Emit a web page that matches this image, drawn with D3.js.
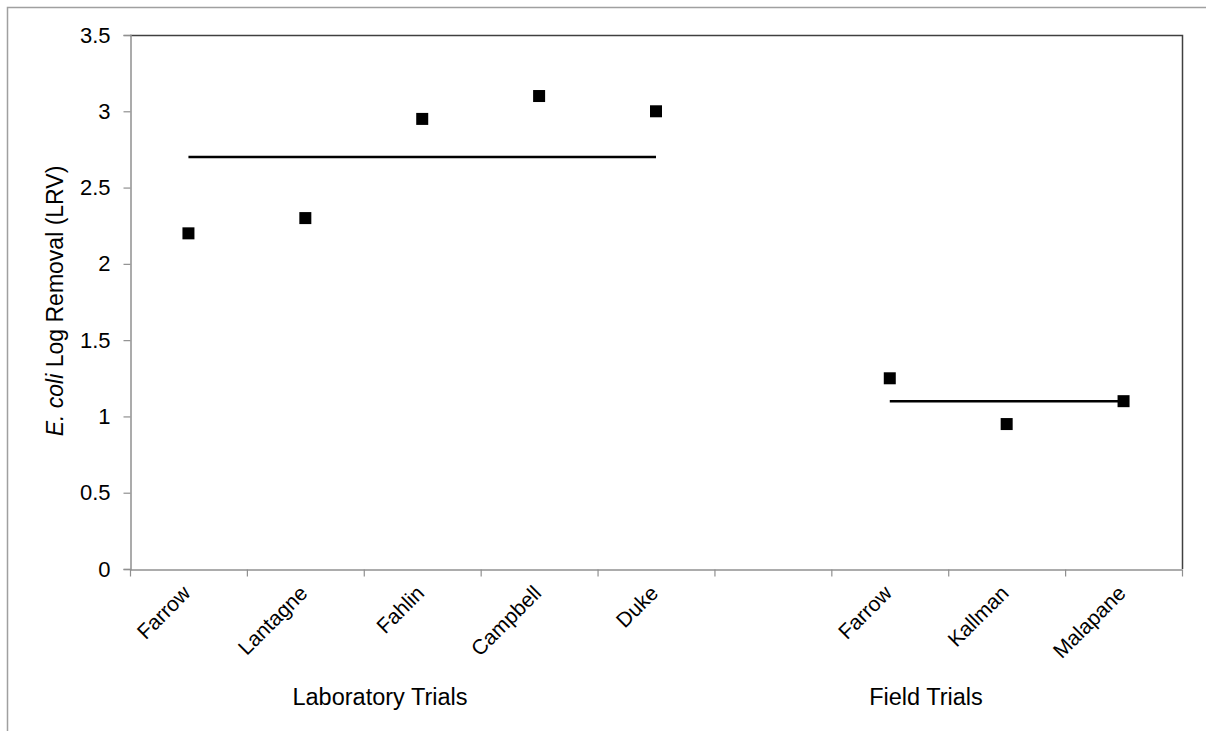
<!doctype html>
<html>
<head>
<meta charset="utf-8">
<style>
  body { margin: 0; background: #fff; }
  text { font-family: "Liberation Sans", Arial, sans-serif; fill: #000; }
</style>
</head>
<body>
<script src="https://d3js.org/d3.v7.min.js"></script>
<script>

  // data
  var labels = ["Farrow","Lantagne","Fahlin","Campbell","Duke","","Farrow","Kallman","Malapane"];
  var values = [2.2, 2.3, 2.95, 3.1, 3.0, null, 1.25, 0.95, 1.1];
  var yTicks = [0, 0.5, 1, 1.5, 2, 2.5, 3, 3.5];
  // mean lines: [first index, last index, value]
  var meanLab = [0, 4, 2.7];
  var meanField = [6, 8, 1.1];
  var groups = ["Laboratory Trials", "Field Trials"];

  var width = 1206, height = 731;
  var pad = { left: 130, right: 1182, top: 35, bottom: 569 };

  var svg = d3.select("body").append("svg").attr("width", width).attr("height", height);

  // outer chart border
  svg.append("rect")
      .attr("x", 7.5).attr("y", 7.5)
      .attr("width", width + 20).attr("height", height + 20)
      .attr("fill", "none").attr("stroke", "#a0a0a0").attr("stroke-width", 1.5);

  var idx = d3.range(labels.length);
  var xBand = d3.scaleBand().domain(idx).range([pad.left, pad.right]);
  var xEdge = d3.scaleLinear().domain([0, labels.length]).range([pad.left, pad.right]);
  var yScale = d3.scaleLinear().domain([0, 3.5]).range([pad.bottom, pad.top]);

  // plot frame (top and right)
  svg.append("path")
      .attr("d", "M" + pad.left + "," + (pad.top + 0.5) + "H" + (pad.right + 0.5) + "V" + pad.bottom)
      .attr("fill", "none").attr("stroke", "#404040").attr("stroke-width", 1.5);

  // y axis
  var yAxis = svg.append("g")
      .attr("transform", "translate(" + (pad.left + 0.5) + ",0)")
      .call(d3.axisLeft(yScale).tickValues(yTicks).tickSize(7).tickPadding(13)
            .tickFormat(function(d){ return String(d); }));
  yAxis.select(".domain").attr("stroke", "#909090").attr("stroke-width", 1.5);
  yAxis.selectAll(".tick line").attr("stroke", "#909090").attr("stroke-width", 1.2);
  yAxis.selectAll(".tick text").style("font-size", "22px").attr("font-family", null);

  // x axis (ticks at category edges)
  var xAxis = svg.append("g")
      .attr("transform", "translate(0," + (pad.bottom + 0.5) + ")")
      .call(d3.axisBottom(xEdge).tickValues(d3.range(labels.length + 1)).tickSize(7).tickSizeOuter(0)
            .tickFormat(""));
  xAxis.select(".domain").attr("stroke", "#909090").attr("stroke-width", 1.5);
  xAxis.selectAll(".tick line").attr("stroke", "#909090").attr("stroke-width", 1.2);

  // category labels
  svg.append("g").selectAll("text")
      .data(idx.filter(function(i){ return labels[i] !== ""; }))
      .enter().append("text")
      .attr("transform", function(i){
        return "translate(" + (xBand(i) + xBand.bandwidth() / 2 - 7) + "," + (pad.bottom + 15) + ") rotate(-45)";
      })
      .attr("text-anchor", "end")
      .attr("dy", "0.7em")
      .style("font-size", "21px")
      .text(function(i){ return labels[i]; });

  // group labels
  svg.append("text").attr("x", 380).attr("y", 705).attr("text-anchor", "middle")
      .style("font-size", "23.5px").text(groups[0]);
  svg.append("text").attr("x", 926).attr("y", 705).attr("text-anchor", "middle")
      .style("font-size", "23.5px").text(groups[1]);

  // y axis title
  var yt = svg.append("text")
      .attr("transform", "translate(63,301) rotate(-90)")
      .attr("text-anchor", "middle")
      .style("font-size", "23px");
  yt.append("tspan").style("font-style", "italic").text("E. coli");
  yt.append("tspan").text(" Log Removal (LRV)");

  // mean lines
  var line = d3.line()
      .x(function(d){ return xBand(d[0]) + xBand.bandwidth() / 2; })
      .y(function(d){ return yScale(d[1]); });
  [meanLab, meanField].forEach(function(m){
    svg.append("path")
        .attr("d", line([[m[0], m[2]], [m[1], m[2]]]))
        .attr("stroke", "#000").attr("stroke-width", 2.5).attr("fill", "none");
  });

  // points
  var s = 12;
  svg.append("g").selectAll("rect")
      .data(idx.filter(function(i){ return values[i] !== null; }))
      .enter().append("rect")
      .attr("x", function(i){ return xBand(i) + xBand.bandwidth() / 2 - s / 2; })
      .attr("y", function(i){ return yScale(values[i]) - s / 2; })
      .attr("width", s).attr("height", s)
      .attr("fill", "#000");

</script>
</body>
</html>
